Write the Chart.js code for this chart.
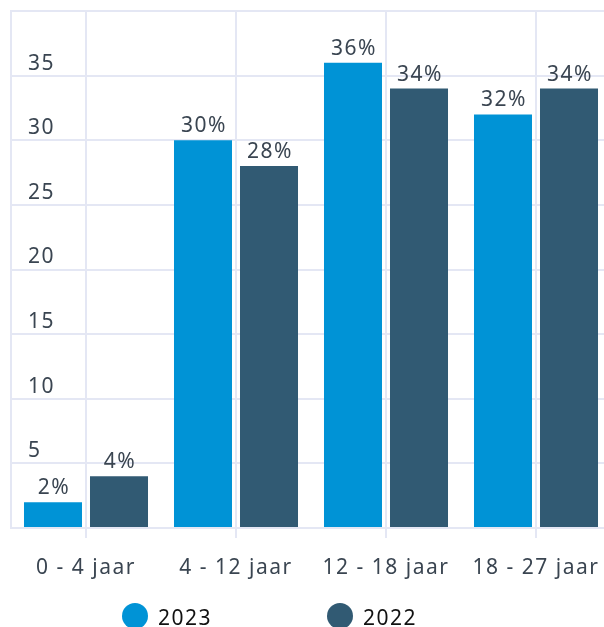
<!DOCTYPE html>
<html>
<head>
<meta charset="utf-8">
<script src="https://cdn.jsdelivr.net/npm/chart.js@4"></script>
<style>
  html, body { margin: 0; padding: 0; background: #ffffff; overflow: hidden; }
  #wrap { position: relative; width: 612px; height: 627px; }
</style>
</head>
<body>
<div id="wrap"><canvas id="chart"></canvas></div>
<script>
// Leeftijdsgroepen en percentages per jaar
const categories = ['0 - 4 jaar', '4 - 12 jaar', '12 - 18 jaar', '18 - 27 jaar'];
const values2023 = [2, 30, 36, 32];
const values2022 = [4, 28, 34, 34];
const seriesLabels = ['2023', '2022'];
const yTicks = [5, 10, 15, 20, 25, 30, 35];

const BLUE = '#0093d6';
const SLATE = '#315a73';
const TEXT = '#3a4551';
const GRID = '#e4e7f4';
const FONT = '"Noto Sans", "Open Sans", sans-serif';
const SPACING = '1.5px';

// Wider letter spacing for every text drawn on the canvas
const spacing = {
  id: 'spacing',
  beforeLayout(chart) { chart.ctx.letterSpacing = SPACING; },
  beforeDraw(chart) { chart.ctx.letterSpacing = SPACING; }
};

// Percentage labels above each bar
const valueLabels = {
  id: 'valueLabels',
  afterDatasetsDraw(chart) {
    const ctx = chart.ctx;
    ctx.save();
    ctx.letterSpacing = SPACING;
    ctx.font = '21px ' + FONT;
    ctx.fillStyle = TEXT;
    ctx.textAlign = 'center';
    ctx.textBaseline = 'alphabetic';
    chart.data.datasets.forEach((ds, i) => {
      chart.getDatasetMeta(i).data.forEach((bar, j) => {
        ctx.fillText(ds.data[j] + '%', bar.x + 1, bar.y - 8);
      });
    });
    ctx.restore();
  }
};

// Legend with round markers below the axis
const dotLegend = {
  id: 'dotLegend',
  afterDraw(chart) {
    const ctx = chart.ctx;
    const items = [{ cx: 135 }, { cx: 340 }];
    ctx.save();
    ctx.letterSpacing = SPACING;
    ctx.font = '21px ' + FONT;
    ctx.textAlign = 'left';
    ctx.textBaseline = 'alphabetic';
    chart.data.datasets.forEach((ds, i) => {
      const it = items[i];
      ctx.beginPath();
      ctx.arc(it.cx, 616, 13, 0, Math.PI * 2);
      ctx.fillStyle = ds.backgroundColor;
      ctx.fill();
      ctx.fillStyle = '#111111';
      ctx.fillText(ds.label, it.cx + 23, 625);
    });
    ctx.restore();
  }
};

new Chart(document.getElementById('chart'), {
  type: 'bar',
  data: {
    labels: categories,
    datasets: [
      { label: seriesLabels[0], data: values2023, backgroundColor: BLUE },
      { label: seriesLabels[1], data: values2022, backgroundColor: SLATE }
    ]
  },
  options: {
    responsive: true,
    maintainAspectRatio: false,
    animation: false,
    events: [],
    layout: { padding: { left: 11, top: 11, right: 1, bottom: 0 } },
    datasets: { bar: { categoryPercentage: 0.88, barPercentage: 0.879 } },
    plugins: { legend: { display: false }, tooltip: { enabled: false } },
    scales: {
      x: {
        grid: { display: true, offset: false, color: GRID, lineWidth: 2, tickLength: 10, drawTicks: true, tickColor: GRID },
        border: { display: true, color: GRID, width: 2 },
        ticks: { color: TEXT, font: { family: FONT, size: 21 }, padding: 17, maxRotation: 0, autoSkip: false },
        afterFit(scale) {
          scale.height = 99;
          scale.paddingLeft = 0;
          scale.paddingRight = 0;
        }
      },
      y: {
        min: 0,
        max: 40,
        grid: { color: GRID, lineWidth: 2, drawTicks: false },
        border: { display: true, color: GRID, width: 2 },
        ticks: {
          stepSize: 5,
          mirror: true,
          padding: 17,
          labelOffset: -12,
          color: TEXT,
          font: { family: FONT, size: 21 },
          callback: (v) => (yTicks.includes(v) ? String(v) : '')
        },
        afterFit(scale) {
          scale.width = 0;
          scale.paddingTop = 0;
          scale.paddingBottom = 0;
        }
      }
    }
  },
  plugins: [spacing, valueLabels, dotLegend]
});
</script>
</body>
</html>
